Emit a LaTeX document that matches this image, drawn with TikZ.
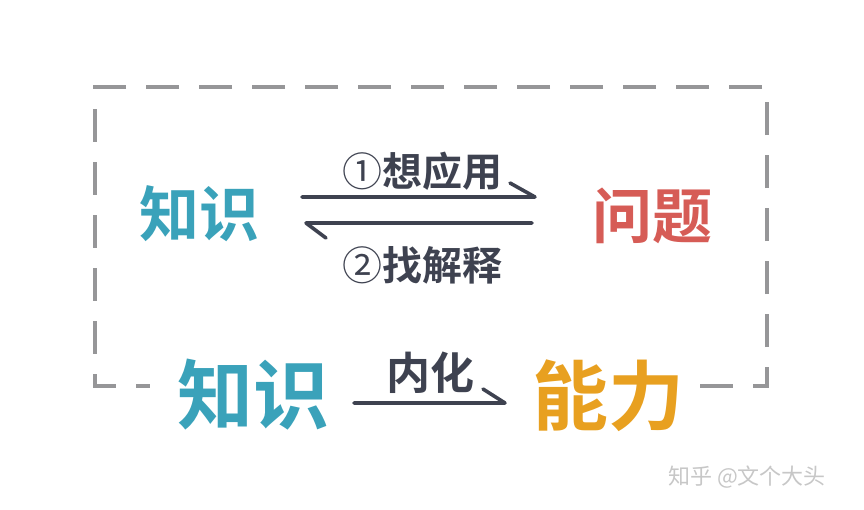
\documentclass[tikz,border=0pt]{standalone}
\usepackage{fontspec}
\setmainfont{Noto Sans CJK SC}
\newfontfamily\cjkbold[BoldFont=*]{Noto Sans CJK SC Bold}
\newfontfamily\cjkthin{Noto Sans CJK SC}
\usetikzlibrary{arrows.meta,calc}
\definecolor{teal1}{RGB}{58,162,186}
\definecolor{red1}{RGB}{214,92,86}
\definecolor{orange1}{RGB}{232,160,32}
\definecolor{pencil}{RGB}{62,66,80}
\definecolor{boxgray}{RGB}{150,150,152}

\begin{document}
\begin{tikzpicture}[x=1pt, y=-1pt,
		word/.style = {font=\cjkbold\fontsize{#1}{#1}\selectfont, inner sep=0pt},
		label/.style = {font=\cjkbold\fontsize{#1}{#1}\selectfont, text=pencil, inner sep=0pt},
		pen/.style = {draw=pencil, line width=3.6pt, line cap=round, line join=round},
		frame/.style = {draw=boxgray, line width=3.5pt, dash pattern=on 33pt off 20pt}]
		\useasboundingbox (0,0) rectangle (864,509);
		% dashed frame, open at the bottom
		\draw[frame] (700,386) -- (767,386) -- (767,87) -- (95,87) -- (95,386) -- (150,386);
		% upper part
		\node[word=60, text=teal1] (k1) at (199,214) {知识};
		\node[word=60, text=red1] (q) at (652,216) {问题};
		\coordinate (u1) at (302,197);
		\coordinate (u2) at (535,197);
		\coordinate (d1) at (306,223);
		\coordinate (d2) at (532,223);
		\draw[pen] (u1) -- (u2) -- ++(-25,-14);
		\draw[pen] (d2) -- (d1) -- ++(20,15);
		\node[label=40] (apply) at (422,171) {{\cjkthin ①}想应用};
		\node[label=40] (explain) at (422,265) {{\cjkthin ②}找解释};
		% lower part
		\node[word=76, text=teal1] (k2) at (253,395) {知识};
		\node[word=76, text=orange1] (n) at (608,396) {能力};
		\coordinate (i1) at (354,403);
		\coordinate (i2) at (505,403);
		\draw[pen] (i1) -- (i2) -- ++(-22,-14);
		\node[label=44] (intern) at (430,373) {内化};
		% watermark
		\node[font=\fontsize{22}{22}\selectfont, text=black!22] (wm) at (747,477) {知乎 @文个大头};
	\end{tikzpicture}
\end{document}
